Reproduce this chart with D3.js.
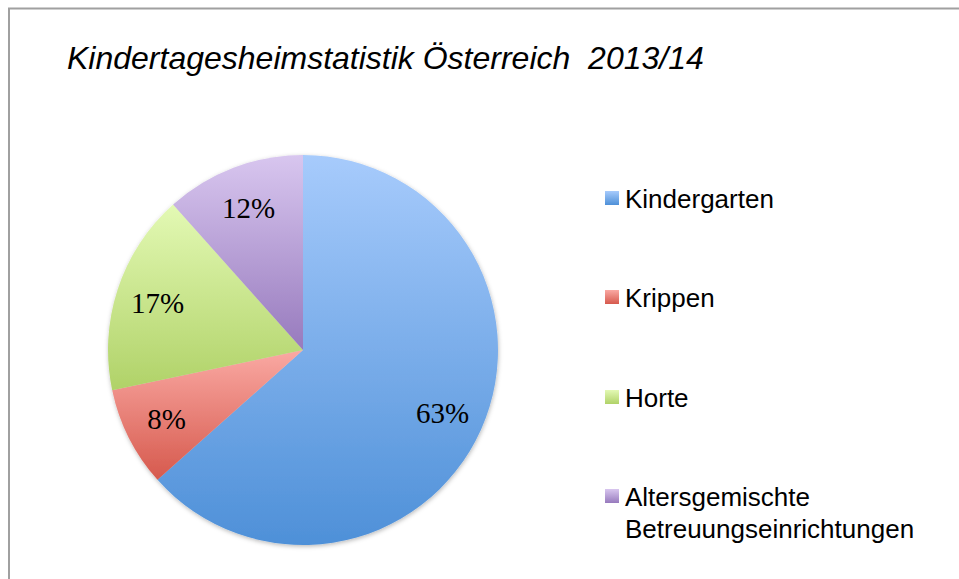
<!DOCTYPE html>
<html>
<head>
<meta charset="utf-8">
<script src="https://cdn.jsdelivr.net/npm/d3@7/dist/d3.min.js"></script>
<style>
  html, body { margin: 0; padding: 0; background: #fff; }
  svg { display: block; }
  .sans { font-family: "Liberation Sans", Arial, Helvetica, sans-serif; }
  .serif { font-family: "Liberation Serif", "Times New Roman", serif; }
</style>
</head>
<body>
<svg id="chart" width="959" height="579"></svg>
<script>
const title = "Kindertagesheimstatistik Österreich  2013/14";
const categories = ["Kindergarten", "Krippen", "Horte", "Altersgemischte Betreuungseinrichtungen"];
const legendLines = [["Kindergarten"], ["Krippen"], ["Horte"], ["Altersgemischte", "Betreuungseinrichtungen"]];
const values = [63.4, 8.3, 16.7, 11.6];
const colorTop = ["#a7cbfc", "#faa9a3", "#e3f9b4", "#d8c6ef"];
const colorBottom = ["#4e90d8", "#d6594d", "#b0d268", "#977abd"];

const svg = d3.select("#chart");
const W = 959, H = 579;

const defs = svg.append("defs");
categories.forEach((c, i) => {
  const g = defs.append("linearGradient")
    .attr("id", "grad" + i)
    .attr("x1", 0).attr("y1", 0).attr("x2", 0).attr("y2", 1);
  g.append("stop").attr("offset", "0%").attr("stop-color", colorTop[i]);
  g.append("stop").attr("offset", "100%").attr("stop-color", colorBottom[i]);
});
const f = defs.append("filter").attr("id", "shadow")
  .attr("x", "-10%").attr("y", "-10%").attr("width", "120%").attr("height", "120%");
f.append("feDropShadow").attr("dx", 0.5).attr("dy", 1.5).attr("stdDeviation", 2)
  .attr("flood-color", "#000").attr("flood-opacity", 0.28);

// chart border
svg.append("rect")
  .attr("x", 9).attr("y", 8.5)
  .attr("width", W + 20).attr("height", H + 20)
  .attr("fill", "#fff")
  .attr("stroke", "#a0a0a0").attr("stroke-width", 2);

// title
svg.append("text")
  .attr("class", "sans")
  .attr("x", 67).attr("y", 69)
  .attr("font-style", "italic")
  .attr("font-size", 32)
  .attr("fill", "#000")
  .style("white-space", "pre")
  .text(title);

// pie
const cx = 303, cy = 350, R = 195;
const total = d3.sum(values);
const pie = d3.pie().sort(null).value(d => d.v);
const data = pie(values.map((v, i) => ({ v, i, name: categories[i] })));
const arc = d3.arc().innerRadius(0).outerRadius(R);
const labelArc = d3.arc().innerRadius(153).outerRadius(153);

const gPie = svg.append("g").attr("transform", `translate(${cx},${cy})`);
const shadowG = gPie.append("g").attr("filter", "url(#shadow)");
shadowG.selectAll("path").data(data).join("path")
  .attr("d", arc)
  .attr("fill", d => `url(#grad${d.data.i})`);

gPie.selectAll("text.lbl").data(data).join("text")
  .attr("class", "lbl serif")
  .attr("transform", d => `translate(${labelArc.centroid(d)})`)
  .attr("text-anchor", "middle")
  .attr("dy", "0.36em")
  .attr("font-size", 29)
  .attr("fill", "#000")
  .text(d => Math.round(d.data.v / total * 100) + "%");

// legend
const legendY = [208, 307, 407, 506];
const lg = svg.append("g");
legendLines.forEach((lines, i) => {
  lg.append("rect")
    .attr("x", 605).attr("y", legendY[i] - 17)
    .attr("width", 14).attr("height", 14)
    .attr("fill", `url(#grad${i})`);
  const t = lg.append("text")
    .attr("class", "sans")
    .attr("x", 625).attr("y", legendY[i])
    .attr("font-size", 26)
    .attr("fill", "#000");
  lines.forEach((ln, j) => {
    t.append("tspan").attr("x", 625).attr("dy", j === 0 ? 0 : 32).text(ln);
  });
});
</script>
</body>
</html>
